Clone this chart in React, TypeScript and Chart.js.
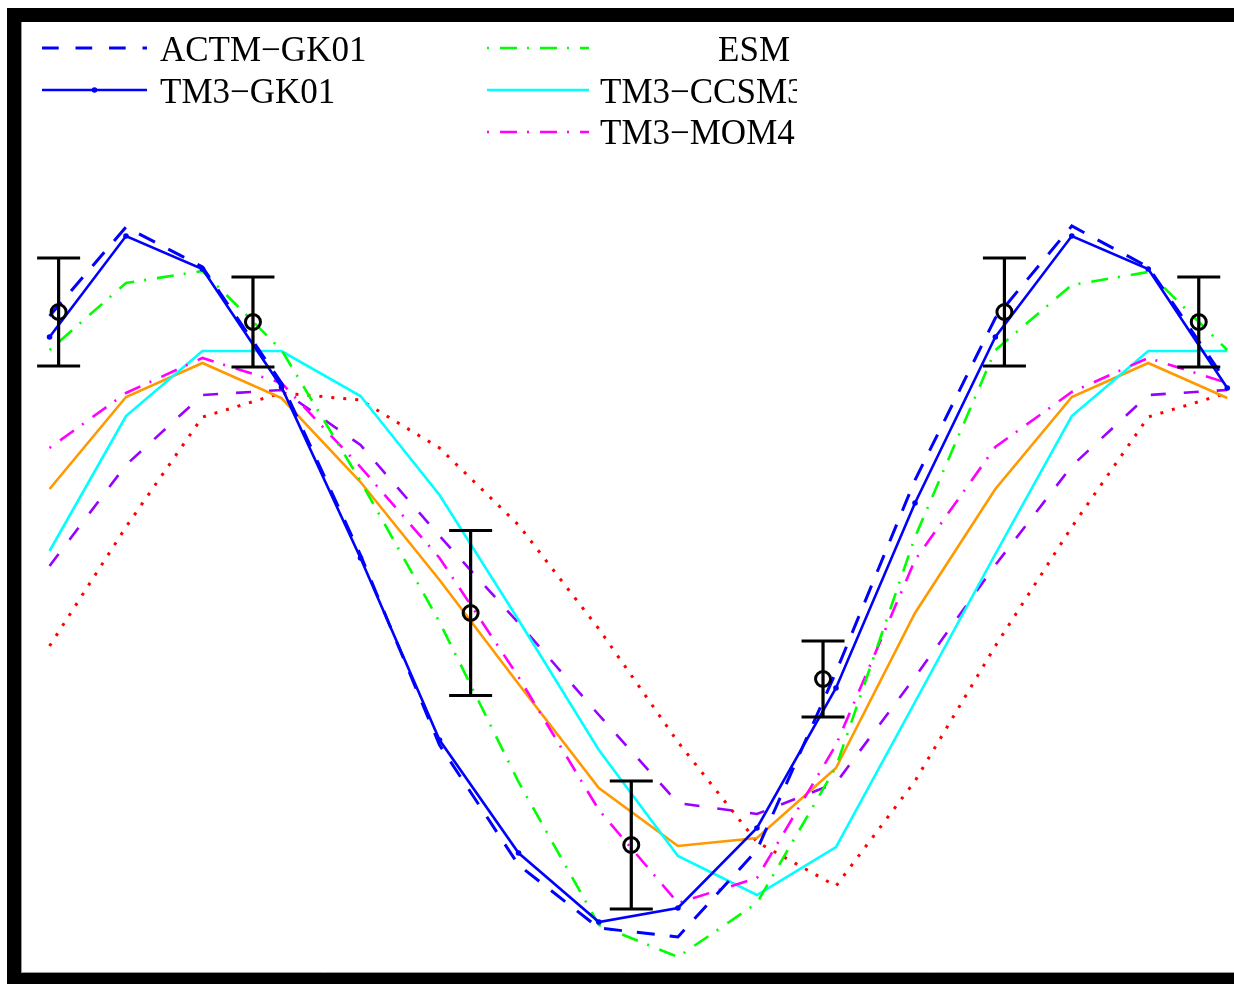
import React, { useEffect, useRef } from "react";
import { Chart, registerables } from "chart.js";

Chart.register(...registerables);

// x: day of year at mid-month (Jan .. Dec, then Jan .. Apr of the next year)
const monthDays = [15.5, 45, 74.5, 105, 135.5, 166, 196.5, 227.5, 258, 288.5, 319, 349.5, 380.5, 410, 439.5, 470];

// detrended seasonal values (ppm)
const actmGK01 = [1.84, 2.73, 2.33, 1.17, -0.55, -2.45, -3.65, -4.28, -4.37, -3.5, -1.72, 0.2, 1.82, 2.74, 2.33, 1.17];
const tm3GK01 = [1.63, 2.64, 2.31, 1.13, -0.58, -2.4, -3.53, -4.22, -4.08, -3.28, -1.88, -0.03, 1.63, 2.64, 2.31, 1.12];
const esm = [1.5, 2.17, 2.29, 1.5, 0.19, -1.22, -2.82, -4.25, -4.57, -4.03, -2.67, -0.37, 1.5, 2.15, 2.28, 1.5];
const tm3CCSM3 = [-0.51, 0.84, 1.49, 1.49, 1.04, 0.05, -1.2, -2.5, -3.56, -3.95, -3.47, -2.02, -0.54, 0.84, 1.49, 1.49];
const tm3MOM4 = [0.52, 1.07, 1.42, 1.17, 0.33, -0.58, -1.77, -3.1, -4.03, -3.78, -2.45, -0.6, 0.53, 1.08, 1.42, 1.17];
const orangeSeries = [0.11, 1.03, 1.37, 1.02, 0.18, -0.8, -1.84, -2.88, -3.46, -3.38, -2.68, -1.13, 0.11, 1.03, 1.37, 1.02];
const purpleSeries = [-0.66, 0.35, 1.05, 1.1, 0.55, -0.36, -1.23, -2.15, -3.03, -3.14, -2.83, -1.77, -0.65, 0.34, 1.05, 1.1];
const redSeries = [-1.46, -0.27, 0.83, 1.07, 1.0, 0.52, -0.25, -1.29, -2.42, -3.42, -3.86, -2.81, -1.46, -0.27, 0.83, 1.07];

// observations with error bars
const obsDays = [19, 94, 178, 240, 314, 384, 459];
const obsValues = [1.88, 1.78, -1.13, -3.45, -1.79, 1.88, 1.78];
const obsErrors = [0.54, 0.45, 0.825, 0.64, 0.38, 0.54, 0.45];

const xMin = 4.48;
const xMax = 472.6;
const yMin = -4.73;
const yMax = 4.78;

const legendLabels = ["ACTM\u2212GK01", "TM3\u2212GK01", "ESM", "TM3\u2212CCSM3", "TM3\u2212MOM4"];

const toPts = (vals: number[]) => vals.map((v, i) => ({ x: monthDays[i], y: v }));

const DASH = [18, 15];
const DASHDOT = [2, 11, 17, 10];
const PURPLE_DASH = [15, 18];
const DOTTED = [3, 9];

export default function App() {
  const ref = useRef<HTMLCanvasElement | null>(null);

  useEffect(() => {
    if (!ref.current) return;

    const framePlugin = {
      id: "frame",
      afterDraw(chart: any) {
        const ctx = chart.ctx;
        const a = chart.chartArea;
        const W = chart.width;
        const H = chart.height;
        ctx.save();
        ctx.fillStyle = "#000";
        ctx.fillRect(0, 0, a.left, H);
        ctx.fillRect(0, 0, W, a.top);
        ctx.fillRect(0, a.bottom, W, H - a.bottom);
        ctx.strokeStyle = "#999";
        ctx.lineWidth = 1;
        ctx.beginPath();
        ctx.moveTo(a.left + 0.5, a.top);
        ctx.lineTo(a.left + 0.5, a.bottom);
        ctx.moveTo(a.left, a.bottom - 0.5);
        ctx.lineTo(W, a.bottom - 0.5);
        ctx.stroke();
        ctx.restore();
      },
    };

    const errorBarPlugin = {
      id: "errbars",
      afterDatasetsDraw(chart: any) {
        const ctx = chart.ctx;
        const xs = chart.scales.x;
        const ys = chart.scales.y;
        ctx.save();
        ctx.strokeStyle = "#000";
        ctx.lineWidth = 3.2;
        ctx.lineCap = "butt";
        obsDays.forEach((d, i) => {
          const px = xs.getPixelForValue(d);
          const pTop = ys.getPixelForValue(obsValues[i] + obsErrors[i]);
          const pBot = ys.getPixelForValue(obsValues[i] - obsErrors[i]);
          ctx.beginPath();
          ctx.moveTo(px, pTop);
          ctx.lineTo(px, pBot);
          ctx.moveTo(px - 21.5, pTop);
          ctx.lineTo(px + 21.5, pTop);
          ctx.moveTo(px - 21.5, pBot);
          ctx.lineTo(px + 21.5, pBot);
          ctx.stroke();
        });
        ctx.restore();
      },
    };

    const legendPlugin = {
      id: "customLegend",
      afterDraw(chart: any) {
        const ctx = chart.ctx;
        ctx.save();
        const sample = (x1: number, x2: number, y: number, color: string, dash: number[], w: number, dot = false) => {
          ctx.beginPath();
          ctx.setLineDash(dash);
          ctx.strokeStyle = color;
          ctx.lineWidth = w;
          ctx.lineCap = "butt";
          ctx.moveTo(x1, y);
          ctx.lineTo(x2, y);
          ctx.stroke();
          ctx.setLineDash([]);
          if (dot) {
            ctx.beginPath();
            ctx.fillStyle = color;
            ctx.arc((x1 + x2) / 2, y, 2.8, 0, Math.PI * 2);
            ctx.fill();
          }
        };
        sample(35, 140, 40, "#0000ff", [16.7, 16.8], 3);
        sample(35, 140, 82, "#0000ff", [], 2.6, true);
        sample(480, 582, 40, "#00ff00", DASHDOT, 2.6);
        sample(480, 582, 82, "#00ffff", [], 2.6);
        sample(480, 582, 124, "#ff00ff", DASHDOT, 2.6);

        ctx.fillStyle = "#000";
        ctx.font = '35px "Liberation Serif", "Times New Roman", serif';
        ctx.textBaseline = "alphabetic";
        ctx.textAlign = "left";
        ctx.fillText(legendLabels[0], 153, 53);
        ctx.fillText(legendLabels[1], 153, 94.5);

        ctx.beginPath();
        ctx.rect(0, 0, 790, 200);
        ctx.clip();
        ctx.textAlign = "right";
        ctx.fillText(legendLabels[2], 783, 53);
        ctx.textAlign = "left";
        ctx.fillText(legendLabels[3], 593, 94.5);
        ctx.fillText(legendLabels[4], 593, 136);
        ctx.restore();
      },
    };

    const chart = new Chart(ref.current, {
      type: "line",
      data: {
        datasets: [
          {
            label: "Observations",
            data: obsDays.map((d, i) => ({ x: d, y: obsValues[i] })),
            showLine: false,
            pointRadius: 7.5,
            pointBorderWidth: 3,
            pointBorderColor: "#000",
            pointBackgroundColor: "rgba(0,0,0,0)",
            pointStyle: "circle",
          },
          {
            label: legendLabels[1],
            data: toPts(tm3GK01),
            borderColor: "#0000ff",
            borderWidth: 2.6,
            pointRadius: 2.8,
            pointBorderWidth: 0,
            pointBackgroundColor: "#0000ff",
          },
          {
            label: legendLabels[0],
            data: toPts(actmGK01),
            borderColor: "#0000ff",
            borderWidth: 3,
            borderDash: DASH,
            pointRadius: 0,
          },
          {
            label: legendLabels[2],
            data: toPts(esm),
            borderColor: "#00ff00",
            borderWidth: 2.6,
            borderDash: DASHDOT,
            pointRadius: 0,
          },
          {
            label: legendLabels[4],
            data: toPts(tm3MOM4),
            borderColor: "#ff00ff",
            borderWidth: 2.6,
            borderDash: DASHDOT,
            pointRadius: 0,
          },
          {
            label: legendLabels[3],
            data: toPts(tm3CCSM3),
            borderColor: "#00ffff",
            borderWidth: 2.6,
            pointRadius: 0,
          },
          {
            label: "orange",
            data: toPts(orangeSeries),
            borderColor: "#ff9900",
            borderWidth: 2.6,
            pointRadius: 0,
          },
          {
            label: "purple",
            data: toPts(purpleSeries),
            borderColor: "#9900ff",
            borderWidth: 2.6,
            borderDash: PURPLE_DASH,
            pointRadius: 0,
          },
          {
            label: "red",
            data: toPts(redSeries),
            borderColor: "#ff0000",
            borderWidth: 3,
            borderDash: DOTTED,
            pointRadius: 0,
          },
        ],
      },
      options: {
        animation: false,
        responsive: false,
        devicePixelRatio: 1,
        layout: { autoPadding: false, padding: { left: 14, top: 14, right: 0, bottom: 11 } },
        plugins: {
          legend: { display: false },
          title: { display: false },
          tooltip: { enabled: false },
        },
        elements: { line: { tension: 0, fill: false } },
        scales: {
          x: { type: "linear", min: xMin, max: xMax, display: false },
          y: { type: "linear", min: yMin, max: yMax, display: false },
        },
      },
      plugins: [errorBarPlugin, legendPlugin, framePlugin],
    });

    return () => chart.destroy();
  }, []);

  return (
    <canvas
      ref={ref}
      width={1227}
      height={976}
      style={{ position: "absolute", left: 7, top: 8, width: 1227, height: 976, background: "#fff" }}
    />
  );
}
